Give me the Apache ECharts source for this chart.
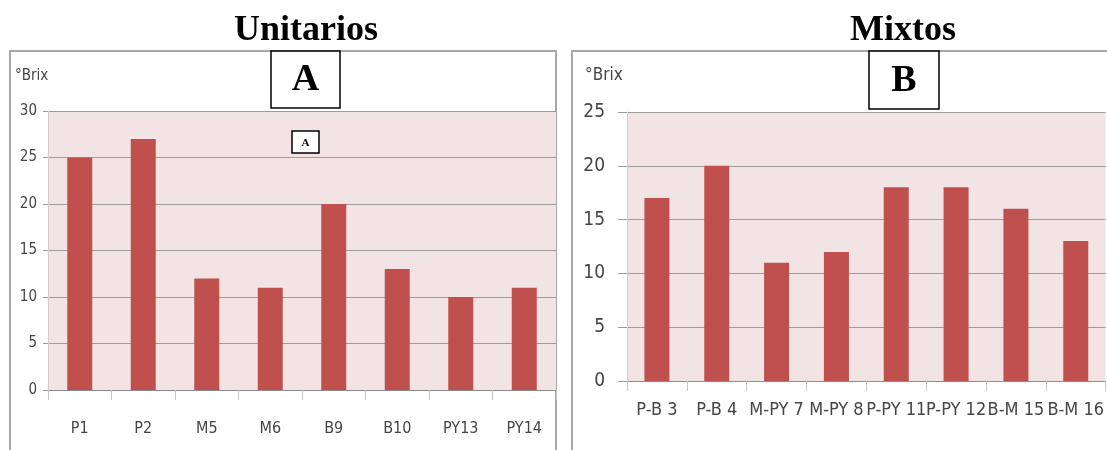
<!DOCTYPE html>
<html>
<head>
<meta charset="utf-8">
<script src="https://cdn.jsdelivr.net/npm/echarts@6/dist/echarts.min.js"></script>
<style>
  html, body { margin: 0; padding: 0; background: #ffffff; }
  #chart { width: 1107px; height: 450px; }
</style>
</head>
<body>
<div id="chart"></div>
<script>
// Unitarios (single-fruit samples)
const unitCategories = ['P1', 'P2', 'M5', 'M6', 'B9', 'B10', 'PY13', 'PY14'];
const unitBrix = [25, 27, 12, 11, 20, 13, 10, 11];

// Mixtos (blended samples)
const mixCategories = ['P-B 3', 'P-B 4', 'M-PY 7', 'M-PY 8', 'P-PY 11', 'P-PY 12', 'B-M 15', 'B-M 16'];
const mixBrix = [17, 20, 11, 12, 18, 18, 16, 13];

const BAR = '#c0504d';
const PLOT_BG = '#f2e4e4';
const GRID_LINE = '#9c9c9c';
const FRAME = '#a8a8a8';
const TEXT = '#454545';
const SANS = '"Liberation Sans Narrow", "DejaVu Sans Condensed", "Liberation Sans", sans-serif';
const SERIF = '"Liberation Serif", "Times New Roman", serif';

const chart = echarts.init(document.getElementById('chart'), null, { renderer: 'canvas' });

function boxedLetter(x, y, w, h, letter, size) {
  return {
    type: 'group',
    z: 100,
    children: [
      { type: 'rect', shape: { x: x, y: y, width: w, height: h },
        style: { fill: '#ffffff', stroke: '#000000', lineWidth: 1.5 } },
      { type: 'text', x: x + w / 2, y: y + h / 2 + 1,
        style: { text: letter, font: 'bold ' + size + 'px ' + SERIF,
                 fill: '#000000', textAlign: 'center', textVerticalAlign: 'middle' } }
    ]
  };
}

chart.setOption({
  animation: false,
  backgroundColor: '#ffffff',
  grid: [
    { left: 48, top: 111, width: 508, height: 279, show: true,
      backgroundColor: PLOT_BG, borderWidth: 0 },
    { left: 627, top: 112, width: 480, height: 269, show: true,
      backgroundColor: PLOT_BG, borderWidth: 0 }
  ],
  xAxis: [
    { type: 'category', gridIndex: 0, data: unitCategories, boundaryGap: true,
      axisLine: { lineStyle: { color: '#8c8c8c', width: 1 } },
      axisTick: { show: true, length: 10, lineStyle: { color: '#c4c4c4' } },
      axisLabel: { interval: 0, margin: 31, fontFamily: SANS, fontSize: 16, color: TEXT } },
    { type: 'category', gridIndex: 1, data: mixCategories, boundaryGap: true,
      axisLine: { lineStyle: { color: '#8c8c8c', width: 1 } },
      axisTick: { show: true, length: 10, lineStyle: { color: '#c4c4c4' } },
      axisLabel: { interval: 0, margin: 20, fontFamily: SANS, fontSize: 18, color: TEXT } }
  ],
  yAxis: [
    { type: 'value', gridIndex: 0, min: 0, max: 30, interval: 5,
      axisLine: { show: true, lineStyle: { color: '#d6cccc' } },
      axisTick: { show: true, length: 5, lineStyle: { color: GRID_LINE } },
      splitLine: { lineStyle: { color: GRID_LINE, width: 1 } },
      axisLabel: { margin: 11, fontFamily: SANS, fontSize: 15, color: TEXT } },
    { type: 'value', gridIndex: 1, min: 0, max: 25, interval: 5,
      axisLine: { show: true, lineStyle: { color: '#d6cccc' } },
      axisTick: { show: true, length: 9, lineStyle: { color: GRID_LINE } },
      splitLine: { lineStyle: { color: GRID_LINE, width: 1 } },
      axisLabel: { margin: 22, fontFamily: SANS, fontSize: 19, color: TEXT } }
  ],
  series: [
    { type: 'bar', xAxisIndex: 0, yAxisIndex: 0, data: unitBrix,
      barWidth: 25, itemStyle: { color: BAR } },
    { type: 'bar', xAxisIndex: 1, yAxisIndex: 1, data: mixBrix,
      barWidth: 25, itemStyle: { color: BAR } }
  ],
  graphic: [
    // panel frames
    { type: 'rect', z: -10, shape: { x: 10, y: 51, width: 546, height: 420 },
      style: { fill: 'none', stroke: FRAME, lineWidth: 2 } },
    { type: 'rect', z: -10, shape: { x: 572, y: 51, width: 560, height: 420 },
      style: { fill: 'none', stroke: FRAME, lineWidth: 2 } },
    // panel headings
    { type: 'text', x: 306, y: 31, z: 50,
      style: { text: 'Unitarios', font: 'bold 36px ' + SERIF, fill: '#000000',
               textAlign: 'center', textVerticalAlign: 'middle' } },
    { type: 'text', x: 903, y: 31, z: 50,
      style: { text: 'Mixtos', font: 'bold 36px ' + SERIF, fill: '#000000',
               textAlign: 'center', textVerticalAlign: 'middle' } },
    // unit labels
    { type: 'text', x: 15, y: 76, z: 50,
      style: { text: '°Brix', font: '15px ' + SANS, fill: TEXT,
               textAlign: 'left', textVerticalAlign: 'middle' } },
    { type: 'text', x: 585, y: 76, z: 50,
      style: { text: '°Brix', font: '17px ' + SANS, fill: TEXT,
               textAlign: 'left', textVerticalAlign: 'middle' } },
    // boxed panel letters
    boxedLetter(271, 51, 69, 57, 'A', 38),
    boxedLetter(292, 131, 27, 22, 'A', 11),
    boxedLetter(869, 51, 70, 58, 'B', 38)
  ]
});
</script>
</body>
</html>
